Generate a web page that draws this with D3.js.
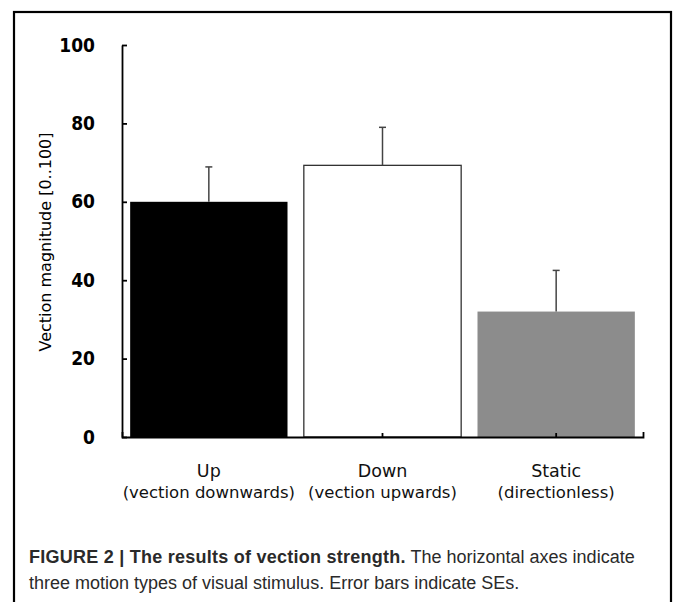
<!DOCTYPE html>
<html>
<head>
<meta charset="utf-8">
<script src="https://cdn.jsdelivr.net/npm/d3@7"></script>
<style>
  html, body { margin: 0; padding: 0; background: #fff; }
</style>
</head>
<body>
<div id="chart"></div>
<script>
console.log("vection bar chart loaded")

// values
const categories = ["Up", "Down", "Static"]
const subLabels = ["(vection downwards)", "(vection upwards)", "(directionless)"]
const means = [60.0, 69.3, 32.0]
const stdErrs = [8.9, 9.7, 10.5]
const barColors = ["#000000", "#ffffff", "#8c8c8c"]
const yTicks = [0, 20, 40, 60, 80, 100]

const data = categories.map((c, i) => ({
  cat: c,
  sub: subLabels[i],
  mean: means[i],
  se: stdErrs[i],
  color: barColors[i]
}))

const width = 673
const height = 602
const margin = ({ top: 45, right: 30, bottom: 165, left: 122 })

const tickFont = "'Liberation Sans Narrow', 'DejaVu Sans Condensed', sans-serif"
const labelFont = "'DejaVu Sans', sans-serif"

const svg = d3.create("svg")
  .attr("width", width)
  .attr("height", height)
  .style("background", "#fff")

// figure frame (runs off the bottom of the page)
svg.append("rect")
  .attr("x", 14)
  .attr("y", 12)
  .attr("width", 657)
  .attr("height", 640)
  .attr("fill", "none")
  .attr("stroke", "#000")
  .attr("stroke-width", 2.2)

const x = d3.scaleBand()
  .domain(categories)
  .range([margin.left, width - margin.right])
  .paddingInner(0.094)
  .paddingOuter(0.047)

const y = d3.scaleLinear()
  .domain([0, 100])
  .range([height - margin.bottom, margin.top])

// bars
svg.append("g")
  .selectAll("rect")
  .data(data)
  .join("rect")
  .attr("x", d => x(d.cat))
  .attr("y", d => y(d.mean))
  .attr("width", x.bandwidth())
  .attr("height", d => y(0) - y(d.mean))
  .attr("fill", d => d.color)
  .attr("stroke", d => d.color === "#ffffff" ? "#333" : "none")
  .attr("stroke-width", 1.3)

// error bars, upward only
const err = svg.append("g")
  .attr("stroke", "#444")
  .attr("stroke-width", 1.5)

err.selectAll("line.stem")
  .data(data)
  .join("line")
  .attr("class", "stem")
  .attr("x1", d => x(d.cat) + x.bandwidth() / 2)
  .attr("x2", d => x(d.cat) + x.bandwidth() / 2)
  .attr("y1", d => y(d.mean))
  .attr("y2", d => y(d.mean + d.se))

err.selectAll("line.cap")
  .data(data)
  .join("line")
  .attr("class", "cap")
  .attr("x1", d => x(d.cat) + x.bandwidth() / 2 - 3.5)
  .attr("x2", d => x(d.cat) + x.bandwidth() / 2 + 3.5)
  .attr("y1", d => y(d.mean + d.se))
  .attr("y2", d => y(d.mean + d.se))

// y axis, ticks pointing inward
const yAxis = g => g
  .attr("transform", `translate(${margin.left},0)`)
  .call(d3.axisLeft(y).tickValues(yTicks).tickSize(-5).tickSizeOuter(0).tickPadding(27))
  .call(g => g.selectAll(".domain, .tick line").attr("stroke", "#000").attr("stroke-width", 1.8))
  .call(g => g.selectAll(".tick text")
    .attr("fill", "#000")
    .attr("font-family", tickFont)
    .attr("font-weight", "bold")
    .attr("font-size", "19px"))

// x axis, ticks pointing up
const xAxis = g => g
  .attr("transform", `translate(0,${y(0)})`)
  .call(d3.axisBottom(x).tickSize(-4).tickSizeOuter(-5).tickFormat(""))
  .call(g => g.selectAll(".domain, .tick line").attr("stroke", "#000").attr("stroke-width", 1.8))

svg.append("g").call(yAxis)
svg.append("g").call(xAxis)

// category labels, two lines each
const catLabels = svg.append("g")
  .attr("font-family", labelFont)
  .attr("font-size", "16.5px")
  .attr("fill", "#111")
  .attr("text-anchor", "middle")

catLabels.selectAll("text.main")
  .data(data)
  .join("text")
  .attr("class", "main")
  .attr("x", d => x(d.cat) + x.bandwidth() / 2)
  .attr("y", 477)
  .attr("font-size", "17.5px")
  .text(d => d.cat)

catLabels.selectAll("text.sub")
  .data(data)
  .join("text")
  .attr("class", "sub")
  .attr("x", d => x(d.cat) + x.bandwidth() / 2)
  .attr("y", 498)
  .text(d => d.sub)

// y title
svg.append("text")
  .attr("transform", "translate(51,242) rotate(-90)")
  .attr("text-anchor", "middle")
  .attr("font-family", "'DejaVu Sans', sans-serif")
  .attr("font-size", "16px")
  .attr("fill", "#000")
  .text("Vection magnitude [0..100]")

// caption below the plot
const cap = svg.append("text")
  .attr("font-family", "'Liberation Sans', Arial, sans-serif")
  .attr("font-size", "18px")
  .attr("fill", "#2a2a2a")

const cap1 = cap.append("tspan").attr("x", 29).attr("y", 563)
cap1.append("tspan").attr("font-weight", "bold").attr("letter-spacing", "0.25").text("FIGURE 2 | The results of vection strength.")
cap1.append("tspan").text(" The horizontal axes indicate")

cap.append("tspan").attr("x", 29).attr("y", 589)
  .text("three motion types of visual stimulus. Error bars indicate SEs.")

document.getElementById("chart").appendChild(svg.node())
console.log("chart done")
</script>
</body>
</html>
